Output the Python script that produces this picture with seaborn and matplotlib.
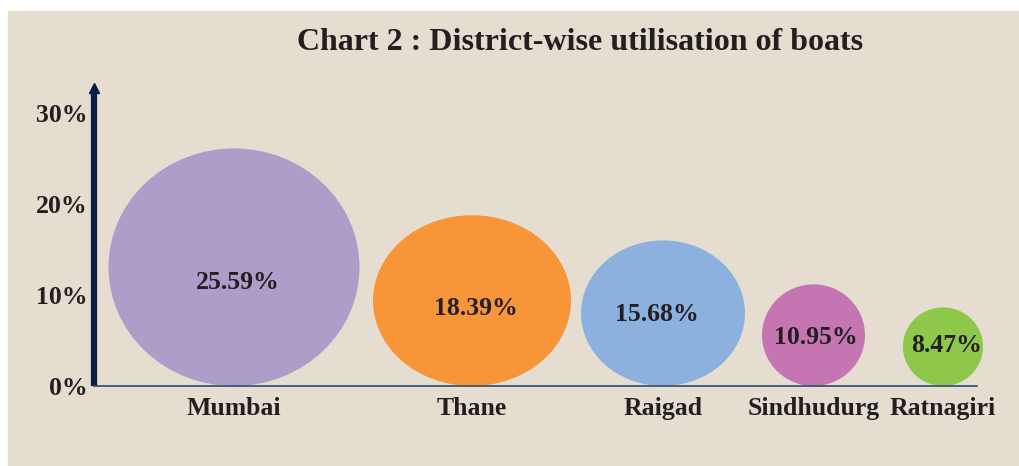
import matplotlib
matplotlib.use("Agg")
import matplotlib.pyplot as plt
from matplotlib.patches import Ellipse, Rectangle
import seaborn as sns

# data
districts = ["Mumbai", "Thane", "Raigad", "Sindhudurg", "Ratnagiri"]
utilisation = [25.59, 18.39, 15.68, 10.95, 8.47]
bubble_colors = ["#ae9dc8", "#f79538", "#8cb1de", "#c576b2", "#8dc84b"]
y_ticks = [0, 10, 20, 30]
y_tick_labels = ["0%", "10%", "20%", "30%"]

# layout (x in pixels from the y axis)
x_centres = [140.5, 378.5, 569.5, 720, 849.5]
bubble_widths = [251, 198, 164, 103, 80]
label_dx = [4, 4, -6, 2, 4]
label_dy = [-1.65, -0.9, -0.1, -0.3, 0.1]
diam_scale = 1.02

sns.set_theme(style="white")
plt.rcParams["font.family"] = ["Liberation Serif", "DejaVu Serif"]
plt.rcParams["font.weight"] = "bold"

bg = "#e4ddd0"
navy = "#0c1d45"
ink = "#231f20"

fig = plt.figure(figsize=(10.19, 4.66), dpi=100)
fig.patch.set_facecolor("white")
fig.patches.append(Rectangle((8 / 1019, 0), 1 - 8 / 1019, 1 - 11 / 466,
                             transform=fig.transFigure, color=bg, zorder=-10))

ax = fig.add_axes([93.5 / 1019, 1 - 386 / 466, 883.5 / 1019, 304 / 466])
ax.set_facecolor("none")
ax.set_xlim(0, 883.5)
ax.set_ylim(0, 33.4)

# bubbles sit on the baseline, height ~ value
for x, v, w, c in zip(x_centres, utilisation, bubble_widths, bubble_colors):
    h = v * diam_scale
    ax.add_patch(Ellipse((x, h / 2), w, h, facecolor=c, edgecolor="none",
                         clip_on=False))

for x, v, dx, dy in zip(x_centres, utilisation, label_dx, label_dy):
    ax.text(x + dx, v * diam_scale / 2 + dy, f"{v:.2f}%", ha="center", va="center",
            fontsize=18.5, fontweight="bold", color=ink, clip_on=False)

ax.set_yticks(y_ticks, y_tick_labels)
ax.set_xticks(x_centres, districts)
ax.tick_params(axis="y", length=0, pad=4, labelsize=18.5, labelcolor=ink)
ax.tick_params(axis="x", length=0, pad=8, labelsize=18.5, labelcolor=ink)
for lbl in ax.get_xticklabels() + ax.get_yticklabels():
    lbl.set_fontweight("bold")

sns.despine(ax=ax, left=True)
ax.spines["bottom"].set_color("#34466e")
ax.spines["bottom"].set_linewidth(1.2)

# y axis with arrow head
ax.plot([0, 0], [0, 32.2], color=navy, lw=4.5, clip_on=False, solid_capstyle="butt")
ax.plot([0], [32.7], marker="^", ms=7, color=navy, clip_on=False)

fig.text(580 / 1019, 1 - 50 / 466, "Chart 2 : District-wise utilisation of boats",
         ha="center", va="baseline", fontsize=23, fontweight="bold", color=ink)

fig.savefig("out.png", dpi=100, facecolor=fig.get_facecolor())
